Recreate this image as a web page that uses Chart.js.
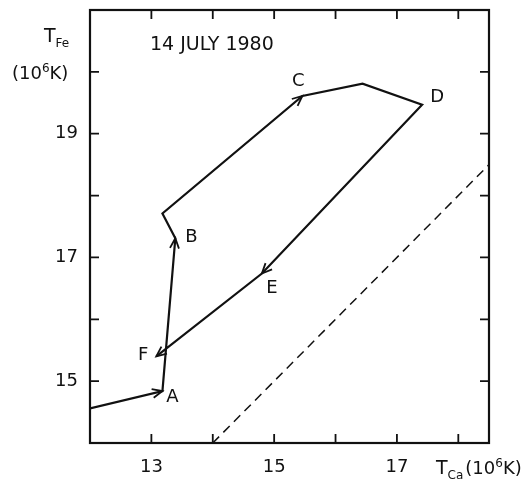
<!DOCTYPE html>
<html>
<head>
<meta charset="utf-8">
<script src="https://cdn.jsdelivr.net/npm/chart.js@4.4.0/dist/chart.umd.min.js"></script>
<style>
  html, body { margin: 0; padding: 0; background: #fff; }
  #wrap { width: 531px; height: 484px; }
</style>
</head>
<body>
<div id="wrap"><canvas id="myChart"></canvas></div>
<script>
// path of the flare in the (T_Ca, T_Fe) plane, 10^6 K
const tCa = [12.0, 13.18, 13.39, 13.18, 15.46, 16.44, 17.41, 14.80, 13.08];
const tFe = [14.56, 14.84, 17.31, 17.71, 19.61, 19.81, 19.47, 16.74, 15.40];
const pointNames = ["", "A", "B", "", "C", "", "D", "E", "F"];
// points carrying an arrow head
const arrowAt = [1, 2, 4, 7, 8];

// T_Fe = T_Ca reference line
const eqLine = [14, 18.5];

const xTicks = [13, 15, 17];
const yTicks = [15, 17, 19];

const FONT = "'DejaVu Sans', sans-serif";
const INK = "#111";

function richText(ctx, parts, x, y) {
  let cx = x;
  parts.forEach((p) => {
    ctx.font = p.size + "px " + FONT;
    ctx.fillText(p.t, cx, y + (p.dy || 0));
    cx += ctx.measureText(p.t).width + (p.gap || 0);
  });
}

const decor = {
  id: "decor",
  afterDatasetsDraw(chart) {
    const { ctx, chartArea: a, scales } = chart;
    const xs = scales.x, ys = scales.y;
    ctx.save();
    ctx.strokeStyle = INK;
    ctx.fillStyle = INK;

    // frame
    ctx.lineWidth = 2.2;
    ctx.strokeRect(a.left, a.top, a.right - a.left, a.bottom - a.top);

    // inward ticks on all four sides
    ctx.lineWidth = 1.8;
    const tl = 9;
    for (let v = 13; v <= 18; v++) {
      const px = xs.getPixelForValue(v);
      ctx.beginPath();
      ctx.moveTo(px, a.bottom); ctx.lineTo(px, a.bottom - tl);
      ctx.moveTo(px, a.top); ctx.lineTo(px, a.top + tl);
      ctx.stroke();
    }
    for (let v = 15; v <= 20; v++) {
      const py = ys.getPixelForValue(v);
      ctx.beginPath();
      ctx.moveTo(a.left, py); ctx.lineTo(a.left + tl, py);
      ctx.moveTo(a.right, py); ctx.lineTo(a.right - tl, py);
      ctx.stroke();
    }

    // arrow heads
    ctx.lineWidth = 1.8;
    arrowAt.forEach((i) => {
      const x1 = xs.getPixelForValue(tCa[i]), y1 = ys.getPixelForValue(tFe[i]);
      const x0 = xs.getPixelForValue(tCa[i - 1]), y0 = ys.getPixelForValue(tFe[i - 1]);
      const ang = Math.atan2(y1 - y0, x1 - x0);
      const len = 11, spread = 0.42;
      ctx.beginPath();
      ctx.moveTo(x1 - len * Math.cos(ang - spread), y1 - len * Math.sin(ang - spread));
      ctx.lineTo(x1, y1);
      ctx.lineTo(x1 - len * Math.cos(ang + spread), y1 - len * Math.sin(ang + spread));
      ctx.stroke();
    });

    // point letters
    const off = { A: [10, 6], B: [16, -1], C: [-4, -15], D: [15, -7], E: [10, 15], F: [-13, -1] };
    ctx.font = "18px " + FONT;
    ctx.textAlign = "center";
    ctx.textBaseline = "middle";
    pointNames.forEach((n, i) => {
      if (!n) return;
      const px = xs.getPixelForValue(tCa[i]) + off[n][0];
      const py = ys.getPixelForValue(tFe[i]) + off[n][1];
      ctx.fillText(n, px, py);
    });

    // date
    ctx.font = "19px " + FONT;
    ctx.textAlign = "left";
    ctx.fillText("14 JULY 1980", 150, 45);

    // axis titles
    ctx.textAlign = "left";
    ctx.textBaseline = "alphabetic";
    richText(ctx, [{ t: "T", size: 19 }, { t: "Fe", size: 12, dy: 5 }], 44, 42);
    richText(ctx, [{ t: "(10", size: 18 }, { t: "6", size: 12, dy: -7 }, { t: "K)", size: 18 }], 12, 79);
    richText(ctx, [{ t: "T", size: 19 }, { t: "Ca", size: 12, dy: 5, gap: 2 }, { t: "(10", size: 18 }, { t: "6", size: 12, dy: -7 }, { t: "K)", size: 18 }], 436, 474);

    ctx.restore();
  },
};

const config = {
  type: "scatter",
  data: {
    datasets: [
      {
        data: tCa.map((x, i) => ({ x, y: tFe[i] })),
        showLine: true,
        borderColor: INK,
        borderWidth: 2.2,
        pointRadius: 0,
        tension: 0,
      },
      {
        data: eqLine.map((v) => ({ x: v, y: v })),
        showLine: true,
        borderColor: INK,
        borderWidth: 1.5,
        borderDash: [9, 6],
        pointRadius: 0,
      },
    ],
  },
  options: {
    responsive: true,
    maintainAspectRatio: false,
    animation: false,
    layout: { padding: { top: 10, right: 42, left: 0, bottom: 0 } },
    scales: {
      x: {
        type: "linear",
        min: 12,
        max: 18.5,
        afterFit: (s) => { s.height = 41; s.paddingLeft = 0; s.paddingRight = 0; },
        afterBuildTicks: (s) => { s.ticks = xTicks.map((v) => ({ value: v })); },
        ticks: { color: INK, font: { family: FONT, size: 18 }, padding: 14, maxRotation: 0 },
        grid: { display: false, drawTicks: false },
        border: { display: false },
      },
      y: {
        type: "linear",
        min: 14,
        max: 21,
        afterFit: (s) => { s.width = 90; s.paddingTop = 0; s.paddingBottom = 0; },
        afterBuildTicks: (s) => { s.ticks = yTicks.map((v) => ({ value: v })); },
        ticks: { color: INK, font: { family: FONT, size: 18 }, padding: 12 },
        grid: { display: false, drawTicks: false },
        border: { display: false },
      },
    },
    plugins: {
      legend: { display: false },
      tooltip: { enabled: false },
    },
  },
  plugins: [decor],
};

const myChart = new Chart(document.getElementById("myChart"), config);
</script>
</body>
</html>
